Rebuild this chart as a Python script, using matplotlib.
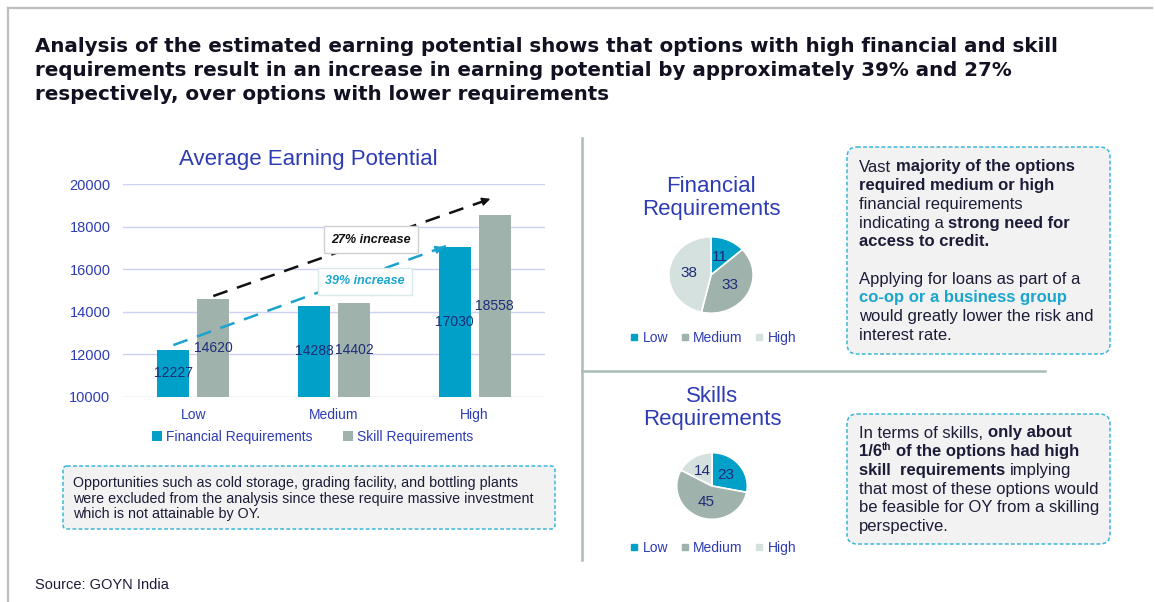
import matplotlib
matplotlib.use("Agg")
import matplotlib.pyplot as plt
from matplotlib.patches import FancyBboxPatch
from matplotlib.lines import Line2D
import numpy as np

plt.rcParams['font.family'] = ['Liberation Sans', 'DejaVu Sans']

# ---------------- data ----------------
levels = ["Low", "Medium", "High"]
financial_avg = [12227, 14288, 17030]
skill_avg = [14620, 14402, 18558]
financial_counts = [11, 33, 38]
skill_counts = [23, 45, 14]
y_ticks = [10000, 12000, 14000, 16000, 18000, 20000]

W, H = 1155, 602
TEAL = '#00A0C8'
GREY = '#A0B2AC'
LIGHT = '#D5E1DF'
BLUE = '#2E3CB4'
NAVY = '#1E2B78'
DARK = '#1C1C38'
DASH = '#3CB6D8'

fig = plt.figure(figsize=(W / 100, H / 100), dpi=100)
renderer = fig.canvas.get_renderer()

# overlay axes in pixel coordinates for frame, boxes and text
bg = fig.add_axes([0, 0, 1, 1], zorder=0)
bg.set_xlim(0, W)
bg.set_ylim(H, 0)
bg.axis('off')

# slide frame and dividers
bg.plot([8, 1152], [8, 8], color='#BDBDBD', lw=1.6)
bg.plot([8, 8], [8, H], color='#BDBDBD', lw=1.6)
bg.plot([582, 582], [138, 560], color='#A9BDB5', lw=1.8)
bg.plot([582, 1045], [371, 371], color='#A9BDB5', lw=1.8)

title_lines = ["Analysis of the estimated earning potential shows that options with high financial and skill",
               "requirements result in an increase in earning potential by approximately 39% and 27%",
               "respectively, over options with lower requirements"]
for i, line in enumerate(title_lines):
    bg.text(35, 47 + i * 24, line, fontsize=14.3, fontweight='bold', color='#111122',
            va='center', ha='left', family=['DejaVu Sans'])

bg.text(35, 585, "Source: GOYN India", fontsize=10.5, color=DARK, va='center')


def box(x0, y0, x1, y1, r=10):
    p = FancyBboxPatch((x0, y0), x1 - x0, y1 - y0, boxstyle=f"round,pad=0,rounding_size={r}",
                       facecolor='#F2F2F2', edgecolor=DASH, lw=1.1, linestyle=(0, (2.5, 1.5)))
    bg.add_patch(p)


def space_w(size, weight):
    a = bg.text(0, 0, "a a", fontsize=size, fontweight=weight)
    b = bg.text(0, 0, "aa", fontsize=size, fontweight=weight)
    w = a.get_window_extent(renderer).width - b.get_window_extent(renderer).width
    a.remove()
    b.remove()
    return w


def rich(x, y, parts, size=12):
    for s, bold, color, *sup in parts:
        weight = 'bold' if bold else 'normal'
        sw = space_w(size, weight)
        x += (len(s) - len(s.lstrip(' '))) * sw
        core = s.strip(' ')
        if core:
            if sup:
                t = bg.text(x, y - 5, core, fontsize=size * 0.6, fontweight=weight, color=color,
                            va='center', ha='left')
            else:
                t = bg.text(x, y, core, fontsize=size, fontweight=weight, color=color,
                            va='center', ha='left')
            x += t.get_window_extent(renderer).width
            x += (len(s) - len(s.rstrip(' '))) * sw


# note box under bar chart
box(63, 466, 555, 529, r=4)
note_lines = ["Opportunities such as cold storage, grading facility, and bottling plants",
              "were excluded from the analysis since these require massive investment",
              "which is not attainable by OY."]
for i, line in enumerate(note_lines):
    bg.text(73, 483 + i * 15.5, line, fontsize=10.3, color=DARK, va='center')

# right hand text boxes
box(847, 147, 1110, 354)
lines1 = [
    [("Vast ", False, DARK), ("majority of the options", True, DARK)],
    [("required medium or high", True, DARK)],
    [("financial requirements", False, DARK)],
    [("indicating a ", False, DARK), ("strong need for", True, DARK)],
    [("access to credit.", True, DARK)],
    [],
    [("Applying for loans as part of a", False, DARK)],
    [("co-op or a business group", True, '#1AA6CE')],
    [("would greatly lower the risk and", False, DARK)],
    [("interest rate.", False, DARK)],
]
for i, parts in enumerate(lines1):
    rich(859, 167 + i * 18.7, parts)

box(847, 414, 1110, 544)
lines2 = [
    [("In terms of skills, ", False, DARK), ("only about", True, DARK)],
    [("1/6", True, DARK), ("th", True, DARK, 'sup'), (" of the options had high", True, DARK)],
    [("skill  requirements", True, DARK), (" implying", False, DARK)],
    [("that most of these options would", False, DARK)],
    [("be feasible for OY from a skilling", False, DARK)],
    [("perspective.", False, DARK)],
]
for i, parts in enumerate(lines2):
    rich(859, 433 + i * 18.7, parts)

# ---------------- bar chart ----------------
ax = fig.add_axes([123 / W, 1 - 397 / H, (545 - 123) / W, (397 - 184) / H], zorder=2)
ax.patch.set_alpha(0)
x = np.arange(len(levels))
bw, off = 0.228, 0.142
b1 = ax.bar(x - off, np.array(financial_avg) - 10000, bw, bottom=10000, color=TEAL, zorder=3,
            label="Financial Requirements")
b2 = ax.bar(x + off, np.array(skill_avg) - 10000, bw, bottom=10000, color=GREY, zorder=3,
            label="Skill Requirements")
for xs, vals in ((x - off, financial_avg), (x + off, skill_avg)):
    for xi, v in zip(xs, vals):
        ax.text(xi, (v + 10000) / 2, str(v), ha='center', va='center', fontsize=10, color=NAVY, zorder=5)

ax.set_xlim(-0.5, 2.5)
ax.set_ylim(10000, 20000)
ax.set_yticks(y_ticks)
ax.set_xticks(x)
ax.set_xticklabels(levels)
ax.tick_params(length=0, colors=BLUE, labelsize=10.5)
ax.tick_params(axis='x', labelsize=10, pad=8)
ax.tick_params(axis='y', pad=9)
ax.grid(axis='y', color='#CDD1F4', lw=1, zorder=0)
for s in ax.spines.values():
    s.set_visible(False)
ax.set_title("Average Earning Potential", fontsize=16, color=BLUE, pad=14, x=0.44)

# trend arrows derived from bar tops
def dashed_arrow(x0, y0, x1, y1, color):
    ax.plot([x0, x1], [y0, y1], color=color, lw=1.8, dashes=(6, 4), zorder=4)
    ax.annotate("", xy=(x1, y1), xytext=(x1 - (x1 - x0) * 0.04, y1 - (y1 - y0) * 0.04),
                arrowprops=dict(arrowstyle='-|>', color=color, lw=1.2, mutation_scale=12), zorder=4)

dashed_arrow(off, skill_avg[0] + 120, 2 + 0.13, skill_avg[2] + 790, '#111111')
dashed_arrow(-off, financial_avg[0] + 210, 2 - off - 0.06, financial_avg[2] + 60, '#1AA3CC')
ax.text(1.263, 17371, "27% increase", fontsize=9, fontweight='bold', fontstyle='italic', color='#111111',
        ha='center', va='center', zorder=6,
        bbox=dict(boxstyle='square,pad=0.6', fc='white', ec='#D0D0D0', lw=1))
ax.text(1.22, 15446, "39% increase", fontsize=9, fontweight='bold', fontstyle='italic', color='#1AA6CE',
        ha='center', va='center', zorder=6,
        bbox=dict(boxstyle='square,pad=0.6', fc='white', ec='#D8EAEA', lw=1))

fig.legend(handles=[b1, b2], loc='center', bbox_to_anchor=(313 / W, 1 - 437 / H), ncol=2, frameon=False,
           fontsize=10, labelcolor=BLUE, handlelength=0.7, handleheight=0.7, handletextpad=0.3,
           columnspacing=2.2)

# ---------------- pies ----------------
def pie(cx, cy, rx, ry, counts, title, title_y, leg_y):
    pax = fig.add_axes([(cx - rx) / W, 1 - (cy + ry) / H, 2 * rx / W, 2 * ry / H], zorder=2)
    total = sum(counts)
    pax.pie(counts, colors=[TEAL, GREY, LIGHT], startangle=90, counterclock=False,
            autopct=lambda p: f"{p * total / 100:.0f}", pctdistance=0.52,
            textprops=dict(color=NAVY, fontsize=11),
            wedgeprops=dict(edgecolor='white', linewidth=1.2))
    pax.set_aspect('auto')
    pax.set_xlim(-1.02, 1.02)
    pax.set_ylim(-1.02, 1.02)
    for i, line in enumerate(title):
        bg.text(cx, title_y + i * 24, line, fontsize=16, color=BLUE, ha='center', va='center')
    handles = [Line2D([], [], marker='s', ls='none', markersize=5, color=c, label=l)
               for c, l in zip([TEAL, GREY, LIGHT], levels)]
    fig.legend(handles=handles, loc='center', bbox_to_anchor=(713 / W, 1 - leg_y / H), ncol=3,
               frameon=False, fontsize=10, labelcolor=BLUE, handlelength=0.6, handletextpad=0.3,
               columnspacing=0.9)

pie(711, 275, 43, 39, financial_counts, ["Financial", "Requirements"], 186, 338)
pie(712, 486, 36, 34, skill_counts, ["Skills", "Requirements"], 396, 548)

fig.savefig("out.png", dpi=100)
